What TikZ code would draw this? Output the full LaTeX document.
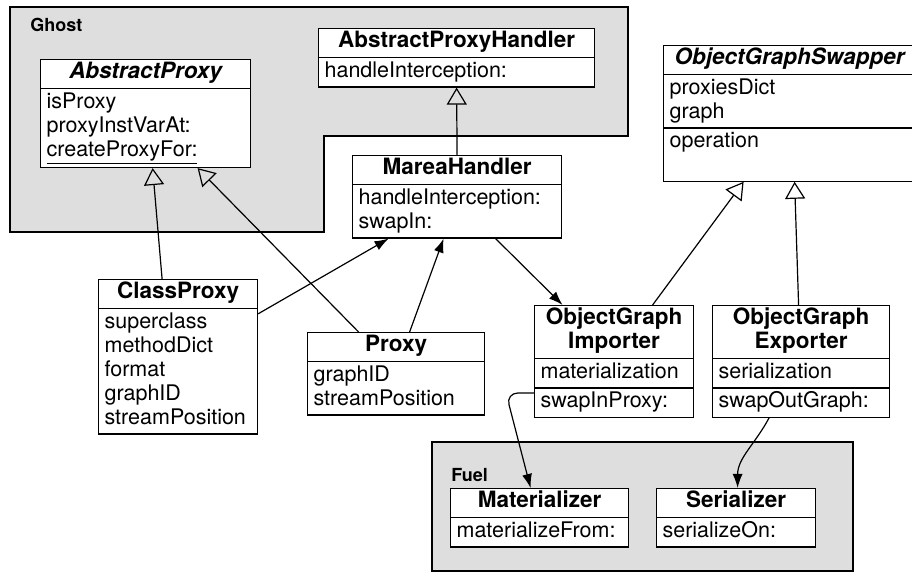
\documentclass[tikz,border=0pt]{standalone}
\usepackage{fontspec}
\setmainfont{TeX Gyre Heros}
\usetikzlibrary{shapes.multipart, arrows.meta}
\definecolor{packageGray}{RGB}{222,222,222}
\newcommand{\classname}[1]{\makebox[\hsize]{\fontsize{11.25}{12}\selectfont\bfseries\strut#1}}

\begin{document}
\begin{tikzpicture}[
  x=0.5pt, y=-0.5pt,
  every node/.style={font=\fontsize{10.75}{12}\selectfont},
  umlclass/.style={draw, fill=white, line width=0.6pt, rectangle split,
    rectangle split parts=#1, inner xsep=3pt, inner ysep=1pt, align=left,
    anchor=north west},
  package/.style={draw, fill=packageGray, line width=0.6pt},
  pkglabel/.style={font=\bfseries\fontsize{9}{10}\selectfont, inner sep=0pt, anchor=north west},
  inherit/.style={-{Triangle[open, length=8.5pt, width=10pt]}, line width=0.6pt},
  assoc/.style={-{Latex[length=7pt, width=5pt]}, line width=0.6pt}
]
\clip (0,0) rectangle (912,572);

\draw[package] (10,7) -- (628,7) -- (628,136) -- (324,136) -- (324,232) -- (10,232) -- cycle;
\draw[package] (432,442) rectangle (853,571);
\node[pkglabel] (ghostlabel) at (30,18) {Ghost};
\node[pkglabel] (fuellabel) at (451,468) {Fuel};

\node[umlclass=2, text width=99pt] (ap) at (40,59)
  {\classname{\itshape AbstractProxy}
   \nodepart{two}\strut isProxy\\ proxyInstVarAt:\\ \underline{createProxyFor:}\strut};
\node[umlclass=2, text width=132pt] (aph) at (318,28)
  {\classname{AbstractProxyHandler}
   \nodepart{two}\strut handleInterception:\strut};
\node[umlclass=2, text width=98.5pt] (mh) at (352,155)
  {\classname{MareaHandler}
   \nodepart{two}\strut handleInterception:\\ swapIn:\strut};
\node[umlclass=3, text width=120pt] (ogs) at (663,45)
  {\classname{\itshape ObjectGraphSwapper}
   \nodepart{two}\strut proxiesDict\\ graph\strut
   \nodepart{three}\strut operation\\ \strut};
\node[umlclass=2, text width=73.5pt] (cp) at (98,279)
  {\classname{ClassProxy}
   \nodepart{two}\strut superclass\\ methodDict\\ format\\ graphID\\ streamPosition\strut};
\node[umlclass=2, text width=82.5pt] (px) at (307,332)
  {\classname{Proxy}
   \nodepart{two}\strut graphID\\ streamPosition\strut};
\node[umlclass=3, text width=73.5pt] (imp) at (534,305)
  {\classname{ObjectGraph}\\ \classname{Importer}
   \nodepart{two}\strut materialization\strut
   \nodepart{three}\strut swapInProxy:\strut};
\node[umlclass=3, text width=82.5pt] (exp) at (712,305)
  {\classname{ObjectGraph}\\ \classname{Exporter}
   \nodepart{two}\strut serialization\strut
   \nodepart{three}\strut swapOutGraph:\strut};
\node[umlclass=2, text width=83pt] (mat) at (450,488)
  {\classname{Materializer}
   \nodepart{two}\strut materializeFrom:\strut};
\node[umlclass=2, text width=73.5pt] (ser) at (656,488)
  {\classname{Serializer}
   \nodepart{two}\strut serializeOn:\strut};

\draw[inherit] ([xshift=-8pt]cp.north) -- ([xshift=3.5pt]ap.south);
\draw[inherit] ([xshift=-18.75pt]px.north) -- ([xshift=26pt]ap.south);
\draw[inherit] (mh.north) -- (aph.south);
\draw[inherit] ([xshift=19.25pt]imp.north) -- ([xshift=-23pt]ogs.south);
\draw[inherit] ([xshift=-1.25pt]exp.north) -- ([xshift=2.5pt]ogs.south);
\draw[assoc] ([yshift=-2.5pt]cp.one split east) -- ([xshift=-34.25pt]mh.south);
\draw[assoc] ([xshift=6.75pt]px.north) -- ([xshift=-6.75pt]mh.south);
\draw[assoc] ([xshift=19.25pt]mh.south) -- ([xshift=-25.75pt]imp.north);
\draw[assoc, rounded corners=6pt] ([yshift=-2.5pt]imp.two split west) -- ++(-14pt,0pt) -- ([xshift=-4.5pt]mat.north);
\draw[assoc] ([xshift=-16pt]exp.south) to[out=-118, in=90] ([xshift=0.75pt]ser.north);
\end{tikzpicture}
\end{document}
